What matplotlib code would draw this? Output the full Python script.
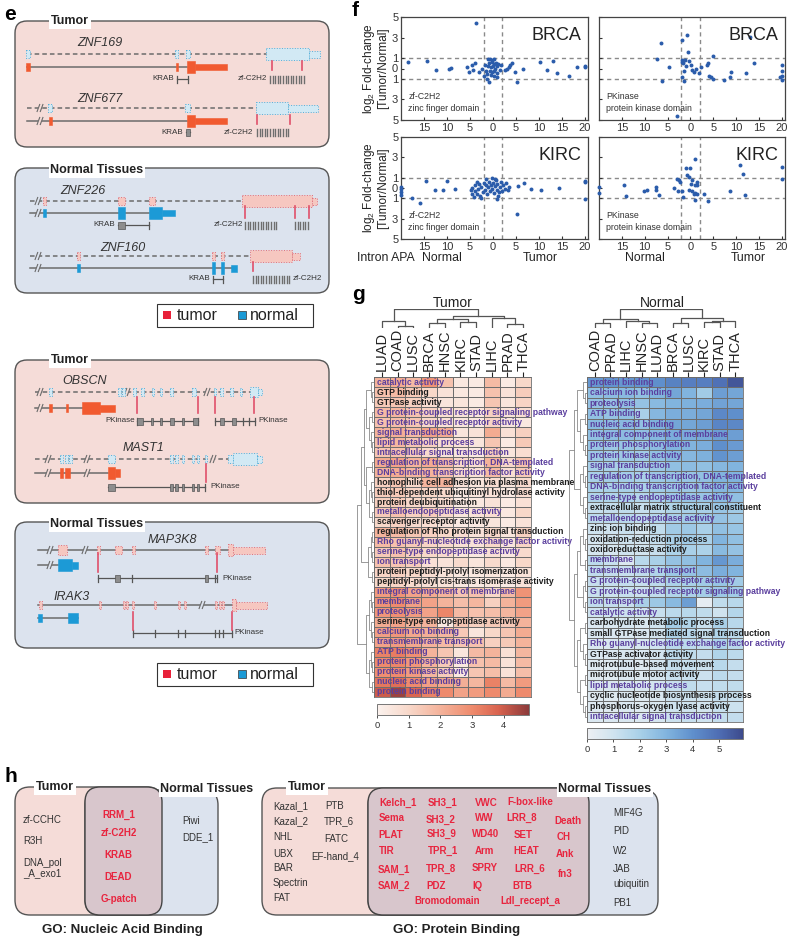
import numpy as np
import matplotlib
matplotlib.use('Agg')
import matplotlib.pyplot as plt
from matplotlib.patches import Rectangle, FancyBboxPatch
from matplotlib.colors import LinearSegmentedColormap

plt.rcParams['font.family'] = ['Liberation Sans', 'DejaVu Sans']
plt.rcParams['mathtext.default'] = 'regular'

# ---------------- panel f data ----------------
BRCA_ZF_X = [-3.6, -18.4, -14.3, -12.4, -9.5, -9.2, -5.6, -5.3, -4.5, -4.0, -4.3, -3.1, -2.4, -2.0, -1.2, -0.9, 0.9,
             2.7, 3.0, 3.4, 3.75, 4.1, 4.8, 5.3, 6.6, 10.2, 11.8, 13.1, 14.0, 16.5, 18.3, 20.0, 20.0,
             -1.0, -0.6, -0.2, 0.3, -0.8, -0.3, 0.2, 0.6, -1.1, -0.5, 0.0, 0.5, 0.9, 1.2, -0.7, -0.2, 0.3, 0.8,
             -1.3, -0.4, 0.2, 1.5, 1.8, -1.8, -1.6]
BRCA_ZF_Y = [4.46, 0.6, 0.68, -0.17, 0.0, 0.07, 0.17, -0.34, 0.34, 0.5, -0.17, -0.34, 0.0, -0.68, -1.0, -1.35, -0.85,
             -0.17, 0.0, 0.17, 0.34, 0.5, -0.34, -1.35, 0.0, 0.6, -0.17, 0.68, -0.44, -0.68, 0.17, 0.24, 0.1,
             0.9, 0.95, 0.85, 0.9, 0.5, 0.6, 0.4, 0.5, 0.2, 0.1, 0.2, 0.0, 0.2, 0.4, -0.2, -0.3, -0.2, -0.4,
             -0.5, -0.6, -0.7, -0.1, 0.3, 0.3, -0.2]
BRCA_PK_X = [-6.5, -7.3, -6.2, -4.7, -2.9, -1.8, -0.7, -0.5, -1.9, -1.8, -1.7, -1.1, -1.9, -1.5, -0.2, 0.2, 0.4, 0.7,
             1.2, 1.8, 2.4, 3.6, 3.9, 4.9, 4.0, 4.5, 4.9, 7.3, 8.6, 8.9, 12.2, 13.1, 13.9, 20.0, 20.0, 20.0, 19.7,
             20.0, -1.3, -0.9]
BRCA_PK_Y = [2.43, 0.95, -1.18, 0.17, -4.66, 2.77, 3.3, 1.59, 0.84, 0.6, 0.5, 0.84, -0.78, -1.18, 0.7, 0.34, -0.17,
             -0.34, 0.0, -0.44, 0.17, 0.34, 0.5, 1.18, -0.68, -0.85, -1.0, -1.08, -0.85, -0.34, -0.44, 3.04, 0.5,
             0.34, -0.27, -0.68, -0.85, -1.08, -0.2, 0.2]
KIRC_ZF_X = [-20, -20, -20, -19.9, -17.7, -15.9, -14.5, -12.5, -10.8, -9.9, -8.3, -4.8, -4.5, -4.1, -4.6, -3.8, -3.4,
             -2.6, 0.9, 5.3, 5.5, 6.7, 8.3, 10.4, 14.3, 20, 20, 20,
             -3.9, -3.5, -3.2, -3.0, -2.8, -2.5, -2.2, -2.0, -1.8, -1.5, -1.3, -1.0, -0.8, -0.6, -0.4, -0.2, 0.0,
             0.2, 0.4, 0.6, 0.8, 1.0, 1.3, 1.5, 1.7, 2.0, 2.3, 2.6, 2.9, 3.2, 3.6, -0.3, 0.5, -1.6, 1.2]
KIRC_ZF_Y = [-0.07, -0.4, -0.73, 0.1, -0.96, -1.49, 0.7, -0.17, -0.17, 0.66, -0.1, -0.23, -0.56, -0.89, 0.03, 0.26, 0.6,
             -1.0, -1.06, -2.58, 0.17, 0.5, -0.1, -0.2, 0.0, 0.7, 0.6, -1.1,
             -0.3, -0.6, -0.1, 0.4, -0.8, 0.1, -0.4, 0.5, -0.2, 0.3, -0.6, 0.1, 0.6, -0.3, 0.3, -0.1, 0.5,
             -0.5, 0.2, 0.8, -0.2, 0.4, -0.4, 0.1, 0.6, -0.3, 0.3, -0.1, 0.5, -0.2, 0.1, 0.95, 0.9, 0.85, -0.8]
KIRC_PK_X = [-20, -20, -14.5, -14, -10.2, -9.6, -7.6, -7.6, -6.9, -3.6, -2.9, -2.5, -2.2, -2.7, -1.8, -1.7, -0.9, 0.0,
             -0.7, -0.4, 0.4, 0.9, 0.9, 1.45, 1.45, 0.4, 0.7, 1.1, 1.45, 1.1, 2.9, 3.9, 8.6, 10.8, 11.6, 12.0, 20, 20,
             -0.2, 0.2]
KIRC_PK_Y = [0.1, -0.5, 0.26, -0.8, -0.3, -0.17, 0.1, -0.23, -0.73, 0.0, 0.93, 0.76, 0.6, -0.3, -0.3, -0.89, 1.92, 1.92,
             1.26, 1.1, 0.76, 0.26, 2.81, 0.6, 0.33, -0.3, -0.56, -0.5, -0.56, -1.16, -0.56, -1.3, -0.3, 2.25, 1.42,
             -0.73, 2.1, 0.93, -0.2, 0.4]
F_XTICKS = [-15, -10, -5, 0, 5, 10, 15, 20]
F_YTICKS = [5, 3, 1, 0, -1, -3, -5]

# ---------------- panel g data ----------------
T_COLS = ['LUAD', 'COAD', 'LUSC', 'BRCA', 'HNSC', 'KIRC', 'STAD', 'LIHC', 'PRAD', 'THCA']
T_ROWS = ['catalytic activity', 'GTP binding', 'GTPase activity', 'G protein-coupled receptor signaling pathway',
          'G protein-coupled receptor activity', 'signal transduction', 'lipid metabolic process',
          'intracellular signal transduction', 'regulation of transcription, DNA-templated',
          'DNA-binding transcription factor activity', 'homophilic cell adhesion via plasma membrane',
          'thiol-dependent ubiquitinyl hydrolase activity', 'protein deubiquitination',
          'metalloendopeptidase activity', 'scavenger receptor activity',
          'regulation of Rho protein signal transduction', 'Rho guanyl-nucleotide exchange factor activity',
          'serine-type endopeptidase activity', 'ion transport', 'protein peptidyl-prolyl isomerization',
          'peptidyl-prolyl cis-trans isomerase activity', 'integral component of membrane', 'membrane',
          'proteolysis', 'serine-type endopeptidase activity', 'calcium ion binding', 'transmembrane transport',
          'ATP binding', 'protein phosphorylation', 'protein kinase activity', 'nucleic acid binding',
          'protein binding']
T_PURPLE = [1, 0, 0, 1, 1, 1, 1, 1, 1, 1, 0, 0, 0, 1, 0, 0, 1, 1, 1, 0, 0, 1, 1, 1, 0, 1, 1, 1, 1, 1, 1, 1]
T_VALUES = [
    [2.0, 2.2, 1.8, 2.8, 1.6, 0.4, 0.3, 1.8, 0.3, 1.0],
    [1.6, 1.8, 1.4, 1.0, 0.6, 0.4, 0.3, 1.6, 0.6, 1.3],
    [1.4, 1.5, 1.2, 0.8, 0.5, 0.5, 0.3, 1.5, 0.5, 1.1],
    [1.8, 1.9, 1.6, 1.2, 0.8, 0.6, 0.5, 1.2, 0.6, 0.8],
    [1.6, 1.7, 1.5, 1.0, 0.7, 0.5, 0.4, 1.1, 0.5, 0.4],
    [2.0, 2.1, 1.8, 2.4, 2.2, 0.5, 0.6, 2.2, 0.7, 1.2],
    [1.7, 1.9, 1.5, 1.2, 0.8, 0.6, 0.5, 1.5, 0.3, 1.4],
    [1.5, 1.6, 1.3, 0.9, 0.6, 0.5, 0.4, 1.3, 0.5, 0.8],
    [2.2, 2.4, 2.0, 2.2, 1.8, 1.0, 0.8, 2.0, 1.0, 1.6],
    [2.0, 2.2, 1.9, 2.0, 1.6, 0.9, 0.7, 1.8, 0.8, 1.4],
    [1.2, 1.5, 1.0, 1.9, 2.0, 0.6, 0.5, 0.8, 0.5, 0.9],
    [1.3, 1.4, 1.1, 1.0, 0.9, 0.3, 0.5, 0.6, 0.3, 0.8],
    [1.2, 1.3, 1.0, 0.9, 0.8, 0.3, 0.4, 0.6, 0.3, 0.7],
    [1.4, 1.6, 1.2, 1.3, 1.0, 0.5, 0.6, 0.8, 0.4, 1.0],
    [1.0, 1.2, 0.9, 0.8, 0.6, 0.3, 0.4, 0.5, 0.3, 0.6],
    [2.0, 1.8, 1.5, 1.2, 1.0, 0.8, 0.6, 1.0, 0.5, 1.2],
    [1.8, 1.6, 1.4, 1.1, 0.9, 0.7, 0.6, 1.0, 0.5, 1.1],
    [1.4, 1.6, 1.2, 1.0, 0.9, 0.5, 0.4, 0.7, 0.4, 0.9],
    [1.6, 1.5, 1.3, 0.7, 0.6, 0.9, 0.5, 0.9, 0.4, 1.0],
    [1.1, 1.2, 1.0, 0.8, 0.6, 0.4, 0.4, 0.5, 0.3, 0.6],
    [1.0, 1.1, 0.9, 0.7, 0.6, 0.4, 0.4, 0.5, 0.3, 0.6],
    [2.6, 2.8, 2.4, 2.2, 2.0, 1.5, 1.6, 1.0, 1.8, 2.8],
    [2.8, 3.0, 2.5, 2.4, 2.0, 1.7, 1.9, 1.2, 2.0, 2.6],
    [2.7, 2.9, 2.6, 2.4, 3.1, 1.8, 1.6, 1.7, 1.9, 2.4],
    [2.2, 2.4, 2.0, 2.0, 0.4, 1.5, 1.2, 1.4, 1.4, 2.0],
    [2.5, 2.7, 2.3, 2.1, 1.9, 1.4, 0.5, 1.0, 1.5, 2.2],
    [2.4, 2.6, 2.3, 2.0, 1.8, 1.5, 1.6, 1.2, 1.4, 2.0],
    [3.2, 3.3, 2.9, 2.0, 1.5, 0.5, 1.8, 2.0, 0.7, 1.9],
    [3.0, 3.1, 2.7, 2.0, 1.4, 0.4, 1.6, 1.8, 0.6, 1.8],
    [2.9, 3.0, 2.6, 1.9, 1.3, 0.4, 1.5, 1.7, 0.6, 1.7],
    [3.4, 3.6, 3.0, 2.5, 2.3, 2.1, 1.9, 3.2, 1.8, 2.6],
    [4.0, 4.6, 3.8, 3.2, 3.0, 2.4, 2.6, 3.0, 2.2, 3.0],
]
N_COLS = ['COAD', 'PRAD', 'LIHC', 'HNSC', 'LUAD', 'BRCA', 'LUSC', 'KIRC', 'STAD', 'THCA']
N_ROWS = ['protein binding', 'calcium ion binding', 'proteolysis', 'ATP binding', 'nucleic acid binding',
          'integral component of membrane', 'protein phosphorylation', 'protein kinase activity',
          'signal transduction', 'regulation of transcription, DNA-templated',
          'DNA-binding transcription factor activity', 'serine-type endopeptidase activity',
          'extracellular matrix structural constituent', 'metalloendopeptidase activity', 'zinc ion binding',
          'oxidation-reduction process', 'oxidoreductase activity', 'membrane', 'transmembrane transport',
          'G protein-coupled receptor activity', 'G protein-coupled receptor signaling pathway', 'ion transport',
          'catalytic activity', 'carbohydrate metabolic process', 'small GTPase mediated signal transduction',
          'Rho guanyl-nucleotide exchange factor activity', 'GTPase activator activity',
          'microtubule-based movement', 'microtubule motor activity', 'lipid metabolic process',
          'cyclic nucleotide biosynthesis process', 'phosphorus-oxygen lyase activity',
          'intracellular signal transduction']
N_PURPLE = [1, 1, 1, 1, 1, 1, 1, 1, 1, 1, 1, 1, 0, 1, 0, 0, 0, 1, 1, 1, 1, 1, 1, 0, 0, 1, 0, 0, 0, 1, 0, 0, 1]
N_VALUES = [
    [3.8, 3.9, 3.8, 3.9, 4.0, 4.4, 4.5, 4.5, 4.9, 5.6],
    [2.6, 2.7, 2.8, 2.6, 3.0, 3.4, 3.0, 2.2, 3.6, 3.4],
    [2.5, 2.4, 2.6, 2.5, 2.8, 3.0, 3.1, 3.2, 3.5, 3.4],
    [2.6, 2.5, 2.6, 2.0, 2.9, 3.2, 3.2, 3.4, 4.2, 4.0],
    [2.8, 2.7, 2.8, 2.6, 3.1, 3.4, 3.4, 3.6, 4.3, 4.2],
    [2.6, 2.7, 2.7, 2.6, 2.9, 3.2, 3.2, 3.3, 3.6, 3.6],
    [2.4, 2.3, 2.4, 2.3, 2.7, 3.0, 3.0, 3.2, 4.0, 3.7],
    [2.3, 2.2, 2.3, 2.2, 2.6, 2.9, 2.9, 3.1, 3.9, 3.6],
    [2.0, 2.0, 2.1, 2.0, 2.3, 2.6, 2.7, 2.6, 2.9, 3.0],
    [2.0, 2.1, 2.1, 2.0, 2.3, 2.4, 2.4, 2.6, 3.0, 3.0],
    [1.9, 2.0, 2.0, 1.9, 2.2, 2.3, 2.3, 2.5, 2.9, 2.9],
    [1.8, 1.8, 1.9, 1.7, 2.0, 2.3, 2.4, 2.4, 2.8, 2.6],
    [1.2, 1.3, 1.4, 1.2, 1.5, 1.8, 2.0, 2.0, 2.4, 2.2],
    [1.5, 1.5, 1.6, 1.4, 1.7, 2.0, 2.2, 2.3, 2.5, 2.3],
    [1.0, 1.0, 1.2, 0.8, 1.4, 2.2, 2.3, 2.0, 2.6, 2.4],
    [0.8, 0.9, 1.1, 0.9, 1.3, 2.0, 2.2, 2.0, 3.0, 2.6],
    [0.8, 0.8, 1.0, 0.9, 1.2, 1.9, 2.0, 1.9, 2.8, 2.5],
    [1.5, 1.2, 0.6, 1.6, 2.0, 2.5, 2.6, 3.0, 3.8, 3.2],
    [1.4, 1.3, 1.2, 1.4, 1.8, 2.3, 2.5, 2.7, 3.2, 3.0],
    [1.2, 1.2, 1.3, 1.2, 1.5, 1.9, 2.0, 2.2, 2.4, 2.2],
    [1.2, 1.1, 1.2, 1.1, 1.4, 1.8, 1.9, 2.1, 2.3, 2.2],
    [1.4, 1.3, 1.2, 2.0, 2.3, 2.8, 3.6, 0.3, 1.4, 1.6],
    [1.0, 1.0, 1.1, 1.0, 1.2, 1.5, 1.6, 1.4, 1.0, 1.7],
    [0.6, 0.7, 0.8, 0.7, 1.0, 2.2, 1.8, 1.2, 2.0, 1.6],
    [0.6, 0.6, 0.7, 0.6, 0.9, 1.9, 1.6, 1.2, 1.8, 1.5],
    [0.7, 0.7, 0.8, 0.8, 1.0, 1.6, 1.5, 1.4, 1.9, 1.6],
    [0.6, 0.6, 0.7, 0.6, 0.9, 1.5, 1.4, 1.3, 1.8, 1.5],
    [0.5, 0.5, 0.6, 0.5, 0.8, 1.3, 1.2, 1.1, 1.6, 1.3],
    [0.5, 0.5, 0.6, 0.5, 0.8, 1.2, 1.2, 1.1, 1.5, 1.3],
    [0.6, 0.7, 0.8, 0.7, 0.9, 1.2, 1.4, 1.2, 1.4, 1.4],
    [0.5, 0.5, 0.6, 0.5, 0.7, 1.1, 1.1, 1.0, 1.3, 1.2],
    [0.5, 0.5, 0.6, 0.5, 0.7, 1.0, 1.0, 0.9, 1.2, 1.1],
    [0.6, 0.6, 0.7, 0.6, 0.8, 1.1, 1.2, 1.0, 1.3, 1.3],
]
# column dendrograms: (left, right, height) linkage rows
T_COL_LINKS = [(1, 2, 5), (0, 10, 18), (3, 4, 12), (5, 6, 15), (12, 13, 22), (8, 9, 10), (7, 15, 25), (14, 16, 28),
               (11, 17, 45)]
N_COL_LINKS = [(0, 1, 12), (3, 4, 12), (2, 11, 18), (10, 12, 22), (5, 6, 12), (7, 8, 14), (15, 9, 18), (14, 16, 24),
               (13, 17, 45)]
T_ROW_TREE = [[[[[0, [1, 2]], [[3, 4], [5, [6, 7]]]], [[8, 9], [[10, [11, 12]], [13, 14]]]],
               [[[15, 16], [17, 18]], [19, 20]]],
              [[[21, [22, 23]], [24, [25, 26]]], [[27, [28, 29]], [30, 31]]]]
N_ROW_TREE = [[[[0, [1, 2]], [[3, 4], [5, [6, 7]]]], [[8, [9, 10]], [11, [12, 13]]]],
              [[[[14, [15, 16]], [17, 18]], [[19, 20], [21, 22]]],
               [[[23, 24], [25, [26, 27]]], [[28, 29], [30, [31, 32]]]]]]

# ---------------- panel h data ----------------
NA_TUMOR = ['zf-CCHC', 'R3H', 'DNA_pol\n_A_exo1']
NA_SHARED = ['RRM_1', 'zf-C2H2', 'KRAB', 'DEAD', 'G-patch']
NA_NORMAL = ['Piwi', 'DDE_1']
PB_TUMOR_1 = ['Kazal_1', 'Kazal_2', 'NHL', 'UBX', 'BAR', 'Spectrin', 'FAT']
PB_TUMOR_2 = ['PTB', 'TPR_6', 'FATC', 'EF-hand_4']
PB_SHARED = ['Kelch_1', 'SH3_1', 'VWC', 'F-box-like', 'Sema', 'SH3_2', 'WW', 'LRR_8', 'Death',
             'PLAT', 'SH3_9', 'WD40', 'SET', 'CH', 'TIR', 'TPR_1', 'Arm', 'HEAT', 'Ank',
             'SAM_1', 'TPR_8', 'SPRY', 'LRR_6', 'fn3', 'SAM_2', 'PDZ', 'IQ', 'BTB',
             'Bromodomain', 'Ldl_recept_a']
PB_NORMAL = ['MIF4G', 'PID', 'W2', 'JAB', 'ubiquitin', 'PB1']

# ---------------- panel e data (exon start, end, height) ----------------
ZNF169_A = [(26, 30, 8), (175, 178, 8), (186, 190, 8), (266, 309, 12), (309, 320, 7)]
ZNF169_B = [(26, 30, 8), (176, 178, 8), (187, 195, 12), (195, 227, 6)]
ZNF677_A = [(48, 52, 8), (185, 190, 8), (256, 288, 12), (288, 318, 7)]
ZNF677_B = [(49, 52, 8), (187, 195, 12), (195, 227, 6)]
ZNF226_A = [(43, 46, 8), (118, 125, 8), (149, 155, 8), (242, 312, 12), (312, 317, 7)]
ZNF226_B = [(43, 46, 8), (118, 125, 12), (149, 162, 12), (162, 175, 6)]
ZNF160_A = [(77, 80, 8), (212, 215, 8), (221, 224, 8), (250, 292, 12), (292, 300, 7)]
ZNF160_B = [(77, 80, 8), (212, 215, 12), (221, 224, 12), (231, 237, 7)]
OBSCN_A = [(49, 52, 8), (118, 121, 8), (122, 125, 8), (133, 136, 8), (141, 144, 8), (152, 154, 8), (160, 162, 8),
           (170, 173, 8), (192, 196, 8), (214, 216, 8), (220, 223, 8), (230, 233, 8), (240, 242, 8), (250, 258, 10),
           (258, 262, 6)]
OBSCN_B = [(49, 52, 8), (66, 68, 8), (82, 100, 12), (100, 115, 7)]
MAST1_A = [(60, 63, 8), (65, 68, 8), (69, 72, 8), (108, 115, 8), (170, 173, 8), (175, 178, 8), (182, 184, 8),
           (192, 194, 8), (197, 199, 8), (205, 206, 8), (228, 233, 8), (233, 257, 12), (257, 262, 7)]
MAST1_B = [(60, 63, 10), (65, 70, 10), (108, 115, 12), (115, 120, 8)]
MAP3K8_A = [(58, 67, 10), (97, 100, 8), (115, 122, 8), (132, 135, 8), (205, 208, 8), (215, 220, 8), (228, 233, 12),
            (233, 265, 7)]
MAP3K8_B = [(58, 72, 12), (72, 78, 7)]
IRAK3_A = [(39, 42, 8), (99, 101, 8), (123, 125, 8), (126, 128, 8), (132, 134, 8), (154, 156, 8), (178, 180, 8),
           (184, 186, 8), (215, 217, 8), (219, 221, 8), (222, 224, 8), (232, 236, 12), (236, 267, 7)]
IRAK3_B = [(38, 42, 8), (68, 78, 10)]

# ---------------- figure ----------------
W, H = 790, 939
fig = plt.figure(figsize=(W / 100, H / 100), dpi=100)


def px_axes(x0, y0, x1, y1):
    return fig.add_axes([x0 / W, 1 - y1 / H, (x1 - x0) / W, (y1 - y0) / H])


ov = px_axes(0, 0, W, H)
ov.set_xlim(0, W)
ov.set_ylim(H, 0)
ov.axis('off')

RED = '#f15a30'
BLUE = '#1c9ad6'
LB_FC, LB_EC = '#d2e9f4', '#4fb0dc'
LP_FC, LP_EC = '#f6c7c0', '#e0707a'
TICKRED = '#e0506a'
PINK_BG = '#f5dcd8'
BLUE_BG = '#dce3ee'
LINEC = '#6b6b6b'


def rbox(x0, y0, x1, y1, fc, ec='#555555', r=12, lw=1.0, z=1):
    p = FancyBboxPatch((x0, y0), x1 - x0, y1 - y0, boxstyle=f"round,pad=0,rounding_size={r}",
                       fc=fc, ec=ec, lw=lw, zorder=z)
    ov.add_patch(p)


def box_label(x, y, s, fs=9):
    ov.text(x, y, s, ha='center', va='center', fontsize=fs, fontweight='bold', color='#222', zorder=20,
            bbox=dict(fc='white', ec='none', pad=1.2))


def iso_line(x0, x1, y, dashed, breaks, bg):
    ov.plot([x0, x1], [y, y], color=LINEC, lw=1.1, ls=(0, (3, 2)) if dashed else '-', zorder=3)
    for b in breaks:
        ov.add_patch(Rectangle((b - 2.2, y - 2), 4.4, 4, fc=bg, ec='none', zorder=4))
        for dx in (-1.6, 1.6):
            ov.plot([b + dx - 1.3, b + dx + 1.3], [y + 3.5, y - 3.5], color=LINEC, lw=0.8, zorder=5)


def exons(lst, y, kind):
    for a, b, h in lst:
        w = max(b - a, 1.5)
        if kind == 'red':
            ov.add_patch(Rectangle((a, y - h / 2), w, h, fc=RED, ec=RED, lw=0.4, zorder=6))
        elif kind == 'blue':
            ov.add_patch(Rectangle((a, y - h / 2), w, h, fc=BLUE, ec=BLUE, lw=0.4, zorder=6))
        elif kind == 'lblue':
            ov.add_patch(Rectangle((a, y - h / 2), w, h, fc=LB_FC, ec=LB_EC, lw=0.7, ls=':', zorder=6))
        else:
            ov.add_patch(Rectangle((a, y - h / 2), w, h, fc=LP_FC, ec=LP_EC, lw=0.7, ls=':', zorder=6))


def domain(y, x0, x1, boxes, ticks=(), caps=True):
    ov.plot([x0, x1], [y, y], color='#555', lw=0.9, zorder=3)
    tk = list(ticks) + ([x0, x1] if caps else [])
    for t in tk:
        ov.plot([t, t], [y - 3.5, y + 3.5], color='#555', lw=0.9, zorder=3)
    for a, b in boxes:
        ov.add_patch(Rectangle((a, y - 3.5), max(b - a, 1.6), 7, fc='#8d8d8d', ec='#555', lw=0.5, zorder=4))


def stripes(x0, x1, y):
    for x in np.arange(x0, x1 + 0.1, 2.6):
        ov.plot([x, x], [y - 3.5, y + 3.5], color='#6e6e6e', lw=1.0, zorder=4)


def rtick(x, y0, y1):
    ov.plot([x, x], [y0, y1], color=TICKRED, lw=1.2, zorder=7)


def small(x, y, s, ha='right'):
    ov.text(x, y, s, ha=ha, va='center', fontsize=5.8, color='#333', zorder=8)


def gname(x, y, s):
    ov.text(x, y, s, ha='center', va='center', fontsize=9, style='italic', color='#333', zorder=8)


# ---- panel e ----
ov.text(4, 14, 'e', fontsize=15, fontweight='bold', va='center', ha='left')
rbox(15, 21, 329, 147, PINK_BG)
rbox(15, 168, 329, 293, BLUE_BG)
rbox(15, 360, 329, 503, PINK_BG)
rbox(15, 522, 329, 648, BLUE_BG)
box_label(70, 21, 'Tumor')
box_label(97, 170, 'Normal Tissues')
box_label(70, 360, 'Tumor')
box_label(97, 524, 'Normal Tissues')

# ZNF169
gname(100, 43, 'ZNF169')
iso_line(27, 320, 54, True, [], PINK_BG)
exons(ZNF169_A, 54, 'lblue')
iso_line(27, 187, 67, False, [], PINK_BG)
exons(ZNF169_B, 67, 'red')
domain(79, 177, 188, [])
small(174, 79, 'KRAB')
small(267, 79, 'zf-C2H2')
stripes(270, 305, 79)
rtick(272, 61, 70)
rtick(302, 61, 70)
# ZNF677
gname(100, 99, 'ZNF677')
iso_line(27, 318, 108, True, [40], PINK_BG)
exons(ZNF677_A, 108, 'lblue')
iso_line(27, 187, 121, False, [40], PINK_BG)
exons(ZNF677_B, 121, 'red')
domain(132, 186, 190, [(186, 190)], caps=False)
small(183, 132, 'KRAB')
small(253, 132, 'zf-C2H2')
stripes(257, 290, 132)
rtick(257, 115, 124)
rtick(290, 115, 124)
# ZNF226
gname(83, 191, 'ZNF226')
iso_line(30, 315, 201, True, [38], BLUE_BG)
exons(ZNF226_A, 201, 'lpink')
iso_line(30, 149, 213, False, [38], BLUE_BG)
exons(ZNF226_B, 213, 'blue')
domain(225, 118, 149, [(118, 125)], ticks=[149], caps=False)
small(115, 225, 'KRAB')
small(243, 225, 'zf-C2H2')
stripes(245, 278, 225)
stripes(295, 309, 225)
rtick(245, 206, 218)
rtick(295, 206, 218)
rtick(309, 206, 218)
# ZNF160
gname(123, 248, 'ZNF160')
iso_line(30, 300, 256, True, [38], BLUE_BG)
exons(ZNF160_A, 256, 'lpink')
iso_line(30, 233, 268, False, [38], BLUE_BG)
exons(ZNF160_B, 268, 'blue')
domain(279, 213, 223, [])
small(210, 279, 'KRAB')
stripes(253, 290, 279)
small(293, 279, 'zf-C2H2', ha='left')
rtick(253, 262, 271)

# legends
for ly in (304, 663):
    ov.add_patch(Rectangle((157, ly), 156, 23, fc='white', ec='#333', lw=0.8, zorder=2))
    ov.add_patch(Rectangle((163, ly + 7), 8, 8, fc='#e8213a', ec='none', zorder=3))
    ov.text(177, ly + 11.5, 'tumor', fontsize=11.5, va='center', ha='left', color='#222', zorder=3)
    ov.add_patch(Rectangle((238, ly + 7), 8, 8, fc='#1a9ad6', ec='#333', lw=0.5, zorder=3))
    ov.text(250, ly + 11.5, 'normal', fontsize=11.5, va='center', ha='left', color='#222', zorder=3)

# OBSCN
gname(85, 381, 'OBSCN')
iso_line(35, 262, 392, True, [40, 127, 207], PINK_BG)
exons(OBSCN_A, 392, 'lblue')
iso_line(35, 100, 408, False, [40], PINK_BG)
exons(OBSCN_B, 408, 'red')
domain(421, 137, 198, [(137, 143), (151, 152), (160, 161), (170, 174), (182, 183), (193, 198)])
domain(421, 215, 255, [(220, 224), (232, 236)], ticks=[243, 249])
small(135, 421, 'PKinase')
small(258, 421, 'PKinase', ha='left')
for x in (137, 198, 215, 254):
    rtick(x, 397, 413)
# MAST1
gname(143, 448, 'MAST1')
iso_line(35, 262, 459, True, [48, 87, 213], PINK_BG)
exons(MAST1_A, 459, 'lblue')
iso_line(35, 108, 473, False, [48, 87], PINK_BG)
exons(MAST1_B, 473, 'red')
domain(487, 108, 205, [(108, 115), (170, 173), (175, 178), (182, 184), (192, 194), (197, 199)], caps=False,
       ticks=[205])
small(210, 487, 'PKinase', ha='left')
rtick(206, 464, 482)
# MAP3K8
gname(172, 540, 'MAP3K8')
iso_line(38, 265, 550, False, [50, 85], BLUE_BG)
exons(MAP3K8_A, 550, 'lpink')
iso_line(38, 58, 565, False, [50], BLUE_BG)
exons(MAP3K8_B, 565, 'blue')
domain(578, 98, 217, [(115, 120), (205, 208)], ticks=[132, 215])
small(222, 578, 'PKinase', ha='left')
rtick(98, 553, 572)
rtick(217, 553, 572)
# IRAK3
gname(72, 597, 'IRAK3')
iso_line(38, 267, 605, False, [202], BLUE_BG)
exons(IRAK3_A, 605, 'lpink')
iso_line(38, 78, 618, False, [], BLUE_BG)
exons(IRAK3_B, 618, 'blue')
domain(633, 133, 232, [], ticks=[155, 178, 185, 215, 219, 223])
small(234, 633, 'PKinase', ha='left')
rtick(133, 612, 630)
rtick(232, 612, 630)

# ---- panel f ----
ov.text(352, 10, 'f', fontsize=15, fontweight='bold', va='center', ha='left')
f_axes = [(401, 17, 588, 120), (599, 17, 785, 120), (401, 137, 588, 239), (599, 137, 785, 239)]
f_data = [(BRCA_ZF_X, BRCA_ZF_Y, 'BRCA', 'zf-C2H2\nzinc finger domain', True),
          (BRCA_PK_X, BRCA_PK_Y, 'BRCA', 'PKinase\nprotein kinase domain', False),
          (KIRC_ZF_X, KIRC_ZF_Y, 'KIRC', 'zf-C2H2\nzinc finger domain', True),
          (KIRC_PK_X, KIRC_PK_Y, 'KIRC', 'PKinase\nprotein kinase domain', False)]
for rect, (xs, ys, nm, dom, left) in zip(f_axes, f_data):
    ax = px_axes(*rect)
    for v in (-2, 2):
        ax.axvline(v, color='#8a8a8a', ls=(0, (3, 2.5)), lw=1.0, zorder=1)
    for v in (-1, 1):
        ax.axhline(v, color='#8a8a8a', ls=(0, (3, 2.5)), lw=1.0, zorder=1)
    ax.scatter(xs, ys, s=8, color='#2b5cab', linewidths=0, zorder=3, clip_on=False)
    ax.set_xlim(-20, 20.7)
    ax.set_ylim(-5, 5)
    ax.set_xticks(F_XTICKS)
    ax.set_xticklabels([str(abs(t)) for t in F_XTICKS])
    ax.set_yticks(F_YTICKS)
    if left:
        ax.set_yticklabels([str(abs(t)) for t in F_YTICKS])
        ax.set_ylabel('log$_2$ Fold-change\n[Tumor/Normal]', fontsize=8.5, labelpad=2, linespacing=1.0,
                      color='#222')
    else:
        ax.set_yticklabels([])
    ax.tick_params(direction='in', length=2, labelsize=8, pad=2, colors='#333')
    for s in ax.spines.values():
        s.set_color('#444')
        s.set_linewidth(0.9)
    ax.text(0.965, 0.9, nm, transform=ax.transAxes, ha='right', va='top', fontsize=13, color='#222')
    ax.text(0.04, 0.07, dom, transform=ax.transAxes, ha='left', va='bottom', fontsize=6.3, color='#333',
            linespacing=1.4)
for x, s in [(386, 'Intron APA'), (442, 'Normal'), (540, 'Tumor'), (645, 'Normal'), (748, 'Tumor')]:
    ov.text(x, 258, s, ha='center', va='center', fontsize=8.8, color='#222')

# ---- panel g ----
ov.text(352, 295, 'g', fontsize=15, fontweight='bold', va='center', ha='left')
ov.text(453, 303, 'Tumor', ha='center', va='center', fontsize=10, color='#222')
ov.text(662, 303, 'Normal', ha='center', va='center', fontsize=10, color='#222')

cm_t = LinearSegmentedColormap.from_list('t', [(0, '#fbf2ee'), (0.2, '#f8d9cb'), (0.42, '#f4b29a'),
                                                (0.63, '#ee8a6c'), (0.8, '#d9634f'), (1.0, '#8c3b3b')])
cm_n = LinearSegmentedColormap.from_list('n', [(0, '#eef0f3'), (0.17, '#cfe3ef'), (0.34, '#a8d0e8'),
                                                (0.51, '#81b4de'), (0.68, '#5f8fcc'), (0.85, '#4e6db3'),
                                                (1.0, '#3d4a8c')])
PURPLE = '#5b3f9e'


def heat(rect, vals, rows, cols, purple, cmap, vmax):
    ax = px_axes(*rect)
    arr = np.array(vals)
    m = ax.pcolormesh(np.arange(11), np.arange(len(rows) + 1), arr, cmap=cmap, vmin=0, vmax=vmax,
                      edgecolors='#6d6d6d', linewidth=0.45)
    ax.set_xlim(0, 10)
    ax.set_ylim(len(rows), 0)
    ax.set_yticks([])
    ax.set_xticks(np.arange(10) + 0.5)
    ax.set_xticklabels(cols)
    ax.tick_params(axis='x', top=True, bottom=False, labeltop=True, labelbottom=False, length=3.5, width=0.8,
                   pad=1, labelsize=10.5, labelrotation=90, colors='#222')
    for s in ax.spines.values():
        s.set_color('#6d6d6d')
        s.set_linewidth(0.6)
    for i, (r, p) in enumerate(zip(rows, purple)):
        ax.text(0.18, i + 0.5, r, ha='left', va='center', fontsize=6.2, fontweight='bold',
                color=PURPLE if p else '#1e1e1e', clip_on=False)
    return m


def col_dendro(rect, links, n):
    ax = px_axes(*rect)
    pos = {i: i + 0.5 for i in range(n)}
    hg = {i: 0 for i in range(n)}
    for k, (a, b, h) in enumerate(links):
        ax.plot([pos[a], pos[a], pos[b], pos[b]], [hg[a], h, h, hg[b]], color='#555', lw=0.9)
        pos[n + k] = (pos[a] + pos[b]) / 2
        hg[n + k] = h
    ax.set_xlim(0, n)
    ax.set_ylim(0, 46)
    ax.axis('off')


def row_dendro(rect, tree, n):
    ax = px_axes(*rect)

    def rec(node):
        if isinstance(node, int):
            return node + 0.5, 0.0, 1
        y1, h1, c1 = rec(node[0])
        y2, h2, c2 = rec(node[1])
        c = c1 + c2
        h = max(h1, h2) + 0.6 + 0.25 * np.sqrt(c)
        ax.plot([h1, h, h, h2], [y1, y1, y2, y2], color='#8a8a8a', lw=0.6)
        return (y1 + y2) / 2, h, c

    _, hmax, _ = rec(tree)
    ax.set_ylim(n, 0)
    ax.set_xlim(hmax * 1.02, 0)
    ax.axis('off')


m_t = heat((374, 377, 531, 697), T_VALUES, T_ROWS, T_COLS, T_PURPLE, cm_t, 4.8)
m_n = heat((587, 377, 743, 722), N_VALUES, N_ROWS, N_COLS, N_PURPLE, cm_n, 5.9)
col_dendro((374, 309, 531, 328), T_COL_LINKS, 10)
col_dendro((587, 309, 743, 328), N_COL_LINKS, 10)
row_dendro((357, 377, 374, 697), T_ROW_TREE, 32)
row_dendro((569, 377, 587, 722), N_ROW_TREE, 33)

for rect, m, tk in [((377, 704, 529, 715), m_t, [0, 1, 2, 3, 4]), ((587, 728, 743, 739), m_n, [0, 1, 2, 3, 4, 5])]:
    cax = px_axes(*rect)
    cb = fig.colorbar(m, cax=cax, orientation='horizontal', ticks=tk)
    cb.outline.set_edgecolor('#777')
    cb.outline.set_linewidth(0.7)
    cax.tick_params(labelsize=6.8, length=2.5, width=0.6, pad=1.5, colors='#333')

# ---- panel h ----
ov.text(4, 777, 'h', fontsize=15, fontweight='bold', va='center', ha='left')
rbox(15, 787, 162, 915, PINK_BG, r=15)
rbox(85, 790, 218, 915, BLUE_BG, r=15)
rbox(85, 787, 162, 915, '#d8c6cc', ec='#444', r=15, z=2)
box_label(55, 787, 'Tumor')
box_label(207, 789, 'Normal Tissues')
rbox(262, 788, 589, 915, PINK_BG, r=15)
rbox(368, 790, 658, 915, BLUE_BG, r=15)
rbox(368, 788, 589, 915, '#d8c6cc', ec='#444', r=15, z=2)
box_label(307, 787, 'Tumor')
box_label(605, 789, 'Normal Tissues')

BLACK_T = '#333333'
RED_T = '#e8253f'
for s, y in zip(NA_TUMOR, [820, 841, 868]):
    ov.text(23, y, s, ha='left', va='center', fontsize=7, color=BLACK_T, zorder=10, linespacing=1.1)
for s, y in zip(NA_SHARED, [815, 833, 855, 877, 899]):
    ov.text(118.5, y, s, ha='center', va='center', fontsize=7, fontweight='bold', color=RED_T, zorder=10)
for s, y in zip(NA_NORMAL, [821, 837]):
    ov.text(182, y, s, ha='left', va='center', fontsize=7, color=BLACK_T, zorder=10)

for s, y in zip(PB_TUMOR_1, [806, 821, 837, 854, 868, 883, 898]):
    ov.text(273, y, s, ha='left', va='center', fontsize=7, color=BLACK_T, zorder=10)
for s, (x, y) in zip(PB_TUMOR_2, [(335, 806), (339, 821), (336, 839), (335, 856)]):
    ov.text(x, y, s, ha='center', va='center', fontsize=7, color=BLACK_T, zorder=10)
PB_SHARED_POS = [(398, 803), (443, 803), (486, 803), (530, 802), (392, 818), (441, 820), (484, 818), (522, 818),
                 (568, 821), (391, 835), (442, 834), (486, 834), (523, 835), (564, 837), (387, 851), (443, 851),
                 (484, 851), (526, 851), (565, 854), (394, 870), (441, 869), (485, 868), (530, 869), (565, 874),
                 (394, 886), (436, 886), (477, 886), (522, 886), (447, 901), (530, 901)]
for s, (x, y) in zip(PB_SHARED, PB_SHARED_POS):
    ov.text(x, y, s, ha='center', va='center', fontsize=7, fontweight='bold', color=RED_T, zorder=10)
for s, y in zip(PB_NORMAL, [813, 831, 851, 869, 884, 903]):
    ov.text(613, y, s, ha='left', va='center', fontsize=7, color=BLACK_T, zorder=10)

ov.text(122, 930, 'GO: Nucleic Acid Binding', ha='center', va='center', fontsize=9.5, fontweight='bold',
        color='#222')
ov.text(457, 930, 'GO: Protein Binding', ha='center', va='center', fontsize=9.5, fontweight='bold', color='#222')

fig.savefig('out.png', dpi=100)
